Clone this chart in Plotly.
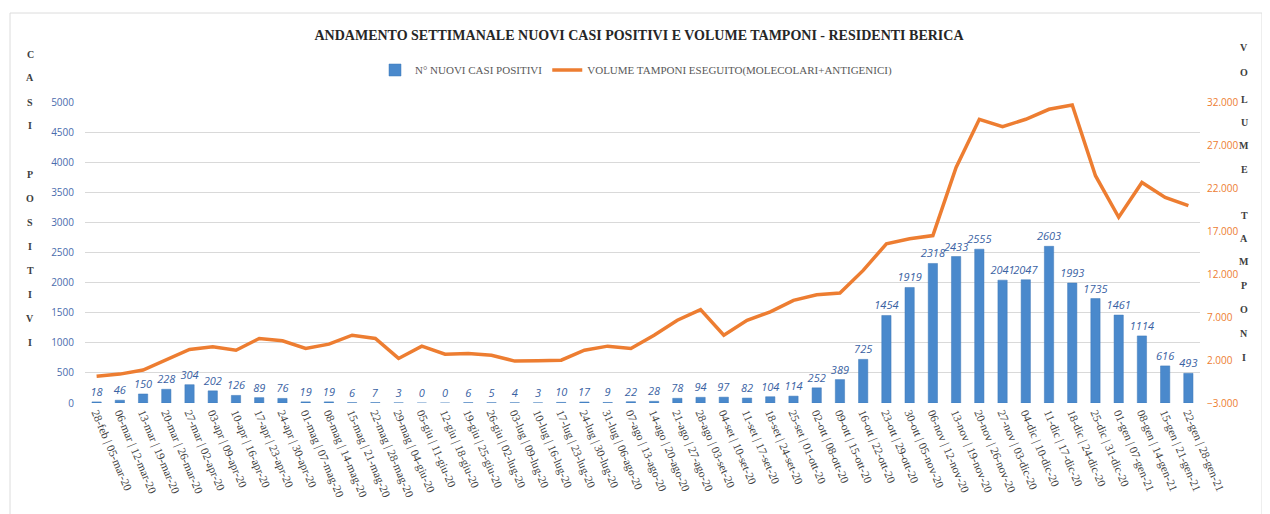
import plotly.graph_objects as go

categories = [
    "28-feb | 05-mar-20", "06-mar | 12-mar-20", "13-mar | 19-mar-20", "20-mar | 26-mar-20",
    "27-mar | 02-apr-20", "03-apr | 09-apr-20", "10-apr | 16-apr-20", "17-apr | 23-apr-20",
    "24-apr | 30-apr-20", "01-mag | 07-mag-20", "08-mag | 14-mag-20", "15-mag | 21-mag-20",
    "22-mag | 28-mag-20", "29-mag | 04-giu-20", "05-giu | 11-giu-20", "12-giu | 18-giu-20",
    "19-giu | 25-giu-20", "26-giu | 02-lug-20", "03-lug | 09-lug-20", "10-lug | 16-lug-20",
    "17-lug | 23-lug-20", "24-lug | 30-lug-20", "31-lug | 06-ago-20", "07-ago | 13-ago-20",
    "14-ago | 20-ago-20", "21-ago | 27-ago-20", "28-ago | 03-set-20", "04-set | 10-set-20",
    "11-set | 17-set-20", "18-set | 24-set-20", "25-set | 01-ott-20", "02-ott | 08-ott-20",
    "09-ott | 15-ott-20", "16-ott | 22-ott-20", "23-ott | 29-ott-20", "30-ott | 05-nov-20",
    "06-nov | 12-nov-20", "13-nov | 19-nov-20", "20-nov | 26-nov-20", "27-nov | 03-dic-20",
    "04-dic | 10-dic-20", "11-dic | 17-dic-20", "18-dic | 24-dic-20", "25-dic | 31-dic-20",
    "01-gen | 07-gen-21", "08-gen | 14-gen-21", "15-gen | 21-gen-21", "22-gen | 28-gen-21",
]

nuovi_casi = [18, 46, 150, 228, 304, 202, 126, 89, 76, 19, 19, 6, 7, 3, 0, 0, 6, 5, 4, 3,
              10, 17, 9, 22, 28, 78, 94, 97, 82, 104, 114, 252, 389, 725, 1454, 1919,
              2318, 2433, 2555, 2041, 2047, 2603, 1993, 1735, 1461, 1114, 616, 493]

volume_tamponi = [100, 360, 830, 1980, 3220, 3530, 3140, 4500, 4230, 3340, 3840, 4880,
                  4500, 2180, 3610, 2680, 2760, 2560, 1870, 1910, 1980, 3140, 3610, 3340,
                  4880, 6620, 7860, 4880, 6620, 7590, 8940, 9590, 9790, 12420, 15510, 16090,
                  16470, 24390, 29990, 29140, 29990, 31150, 31650, 23430, 18600, 22650,
                  20910, 19950]

left_ticks = [0, 500, 1000, 1500, 2000, 2500, 3000, 3500, 4000, 4500, 5000]
right_ticks = [-3000, 2000, 7000, 12000, 17000, 22000, 27000, 32000]

left_title = list("CASI") + [""] + list("POSITIVI")
right_title = list("VOLUME") + [""] + list("TAMPONI")

# page body has an 8px margin, so the figure is drawn 8px right/down
OFF = 8
W, H = 1262, 506
L, R, T, B = 77, 70, 94, 111
PW, PH = W - L - R, H - T - B


def px(x):
    return (x - OFF - L) / PW


def py(y):
    return (H - B - (y - OFF)) / PH


fig = go.Figure()
fig.add_trace(go.Bar(
    x=categories, y=nuovi_casi, name="N° NUOVI CASI POSITIVI",
    marker=dict(color="#4a89cc", line=dict(color="#3f78b8", width=0.5)),
    text=[str(v) for v in nuovi_casi], textposition="outside", cliponaxis=False,
    textangle=0,
    textfont=dict(family="Open Sans", size=11, color="#3a62a3", style="italic"),
))
fig.add_trace(go.Scatter(
    x=categories, y=volume_tamponi, yaxis="y2", mode="lines",
    name="VOLUME TAMPONI ESEGUITO(MOLECOLARI+ANTIGENICI)",
    line=dict(color="#ed7d31", width=3.5),
))

annotations = []
left_y = [54, 78, 102, 126, 150, 174, 198, 222, 246, 270, 294, 318, 342]
for ch, yy in zip(left_title, left_y):
    if ch:
        annotations.append(dict(text="<b>" + ch + "</b>", x=px(30), y=py(yy), xref="paper", yref="paper",
                                showarrow=False, xanchor="center", yanchor="middle",
                                font=dict(family="Liberation Serif", size=10, color="#404040")))
right_y = [48, 73, 100, 122, 145, 169, 192, 215, 238, 261, 285, 309, 333, 357]
for ch, yy in zip(right_title, right_y):
    if ch:
        annotations.append(dict(text="<b>" + ch + "</b>", x=px(1244), y=py(yy), xref="paper", yref="paper",
                                showarrow=False, xanchor="center", yanchor="middle",
                                font=dict(family="Liberation Serif", size=10, color="#404040")))

fig.update_layout(
    width=W, height=H,
    margin=dict(l=L, r=R, t=T, b=B),
    paper_bgcolor="white", plot_bgcolor="white",
    separators=",.",
    uniformtext=dict(minsize=11, mode="show"),
    title=dict(text="<b>ANDAMENTO SETTIMANALE NUOVI CASI POSITIVI E VOLUME TAMPONI - RESIDENTI BERICA</b>",
               x=0.5, xanchor="center", y=1 - (35 - OFF) / H, yanchor="middle",
               font=dict(family="Liberation Serif", size=14, color="#262626")),
    showlegend=True,
    legend=dict(orientation="h", x=px(375), y=py(70), xanchor="left", yanchor="middle",
                font=dict(family="Liberation Serif", size=11, color="#595959"),
                bgcolor="rgba(0,0,0,0)", itemwidth=30, traceorder="normal"),
    bargap=0.6,
    xaxis=dict(type="category", tickangle=67, automargin=False, showgrid=False,
               showline=False, ticks="",
               tickfont=dict(family="Liberation Serif", size=11.5, color="#404040")),
    yaxis=dict(range=[0, 5000], tickvals=left_ticks, tickformat="d", automargin=False,
               showgrid=True, gridcolor="#d9d9d9", gridwidth=1, zeroline=False,
               showline=False, ticks="", ticklabelstandoff=10,
               tickfont=dict(family="Open Sans", size=10, color="#4a6cad")),
    yaxis2=dict(range=[-3000, 32000], tickvals=right_ticks, tickformat=",d",
                overlaying="y", side="right", automargin=False, showgrid=False,
                zeroline=False, showline=False, ticks="", ticklabelstandoff=6,
                tickfont=dict(family="Open Sans", size=10, color="#ed7d31")),
    annotations=annotations,
    shapes=[dict(type="rect", xref="paper", yref="paper",
                 x0=px(10), x1=px(1262), y0=py(530), y1=py(13),
                 line=dict(color="#dcdcdc", width=1), layer="below")],
)

fig.write_html("out.html")
